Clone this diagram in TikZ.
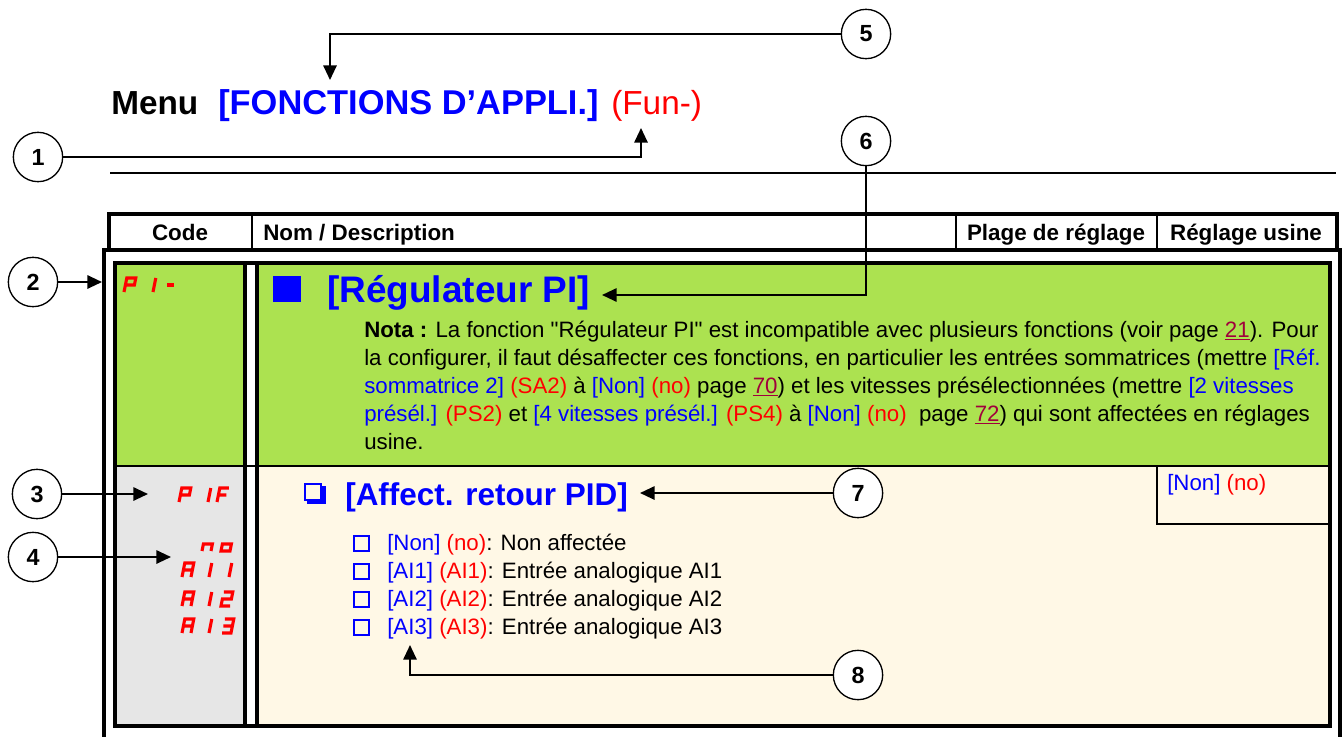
\documentclass[tikz,border=0pt]{standalone}
\usepackage{fontspec}
\setmainfont{Liberation Sans}[Ligatures=TeXOff]
\usepackage{tikz}
\usetikzlibrary{arrows.meta}

\definecolor{menublue}{RGB}{0,0,255}
\definecolor{codered}{RGB}{255,0,0}
\definecolor{pagered}{RGB}{160,0,60}
\definecolor{rowgreen}{RGB}{172,226,80}
\definecolor{rowgrey}{RGB}{230,230,230}
\definecolor{rowcream}{RGB}{255,248,230}

\newcommand\bleu[1]{\textcolor{menublue}{#1}}
\newcommand\rouge[1]{\textcolor{codered}{#1}}
\newcommand\voirpage[1]{\textcolor{pagered}{\underline{#1}}}
% one character of the 7-segment display
\newcommand\segchar[3]{\draw[segline, shift={(#1,#2)}, xslant=0.2] #3;}

\tikzset{
  callout/.style={circle, draw, fill=white, line width=1pt, minimum size=37pt,
    inner sep=0pt, font=\fontsize{17.5}{18}\selectfont\bfseries},
  pointer/.style={line width=1.5pt, -{Triangle[length=11pt,width=10pt]}},
  frame/.style={line width=3pt},
  rule/.style={line width=0.8pt},
  titletext/.style={anchor=base west, inner sep=0pt, font=\fontsize{25}{25}\selectfont\bfseries},
  headtext/.style={anchor=base, inner sep=0pt, font=\fontsize{16.8}{20}\selectfont\bfseries},
  bodytext/.style={anchor=base west, inner sep=0pt, font=\fontsize{16.7}{20}\selectfont},
  segline/.style={codered, line width=2.3pt},
  listbox/.style={menublue, line width=1.1pt},
}

\begin{document}
\begin{tikzpicture}[x=0.75pt, y=-0.75pt]
    \useasboundingbox (0,0) rectangle (1344,736);

    % title
    \node[titletext] (menu) at (111,114) {Menu};
    \node[titletext, text=menublue, font=\fontsize{25.8}{26}\selectfont\bfseries]
      (menuname) at (218,114) {[FONCTIONS D’APPLI.]};
    \node[titletext, text=codered, font=\fontsize{25}{25}\selectfont] (menucode) at (611,114) {(Fun-)};
    \draw[rule] (110,173) -- (1336,173);

    % row backgrounds
    \fill[rowgreen] (115,263) rectangle (245,466);
    \fill[rowgreen] (257,263) rectangle (1330,466);
    \fill[rowgrey] (115,466) rectangle (245,726);
    \fill[rowcream] (257,466) rectangle (1330,726);

    % header
    \draw[frame] (109,214) rectangle (1337,250);
    \foreach \x in {252,956,1157}
      \draw[rule] (\x,214) -- (\x,250);
    \node[headtext] (hcode) at (180,240) {Code};
    \node[headtext, anchor=base west] (hname) at (263,240) {Nom / Description};
    \node[headtext] (hrange) at (1056,240) {Plage de réglage};
    \node[headtext] (hfactory) at (1246,240) {Réglage usine};

    % frames
    \draw[frame] (104,745) -- (104,250) -- (1340,250) -- (1340,745);
    \draw[frame] (115,263) rectangle (1330,726);
    \draw[frame] (245,263) -- (245,726);
    \draw[frame] (257,263) -- (257,726);
    \draw[rule] (115,466) -- (1330,466);
    \draw[rule] (1157,466) -- (1157,524) -- (1330,524);

    % green row
    \fill[menublue] (273,276) rectangle (301,302);
    \node[titletext, text=menublue, font=\fontsize{27.7}{28}\selectfont\bfseries]
      (regpi) at (327,302) {[Régulateur PI]};
    \node[bodytext] (nota1) at (364,337) {\textbf{Nota :} La fonction "Régulateur PI" est incompatible avec plusieurs fonctions (voir page \voirpage{21}). Pour};
    \node[bodytext] (nota2) at (364,365) {la configurer, il faut désaffecter ces fonctions, en particulier les entrées sommatrices (mettre \bleu{[Réf.}};
    \node[bodytext] (nota3) at (364,393) {\bleu{sommatrice 2]} \rouge{(SA2)} à \bleu{[Non]} \rouge{(no)} page \voirpage{70}) et les vitesses présélectionnées (mettre \bleu{[2 vitesses}};
    \node[bodytext] (nota4) at (364,421) {\bleu{présél.]} \rouge{(PS2)} et \bleu{[4 vitesses présél.]} \rouge{(PS4)} à \bleu{[Non]} \rouge{(no)}\ \ page \voirpage{72}) qui sont affectées en réglages};
    \node[bodytext] (nota5) at (364,449) {usine.};

    % cream row
    \draw[menublue, line width=1.3pt] (305,484) rectangle (321,500);
    \fill[menublue] (321,486) rectangle (326,504);
    \fill[menublue] (307,500) rectangle (326,504);
    \node[titletext, text=menublue, font=\fontsize{23.6}{24}\selectfont\bfseries]
      (retour) at (345,505) {[Affect. retour PID]};
    \foreach \lab/\code/\desc [count=\k from 0] in
      {[Non]/(no)/Non affectée, [AI1]/(AI1)/Entrée analogique AI1,
       [AI2]/(AI2)/Entrée analogique AI2, [AI3]/(AI3)/Entrée analogique AI3}
    {
      \draw[listbox] (354,536+28*\k) rectangle (369,551+28*\k);
      \node[bodytext] (item\k) at (387,550+28*\k) {\bleu{\lab} \rouge{\code}: \desc};
    }
    \node[bodytext] (factory) at (1167,490) {\bleu{[Non]} \rouge{(no)}};

    % code column, display characters
    \segchar{124}{292}{(0,0)--(0,-14)--(9,-14)--(9,-7)--(0,-7)}
    \segchar{153}{292}{(0,0)--(0,-14)}
    \segchar{166}{292}{(0,-7)--(7,-7)}
    \segchar{179}{502}{(0,0)--(0,-14)--(9,-14)--(9,-7)--(0,-7)}
    \segchar{208}{502}{(0,0)--(0,-14)}
    \segchar{217}{502}{(9,-14)--(0,-14)--(0,0) (0,-7)--(8,-7)}
    \segchar{202}{551}{(0,0)--(0,-7)--(9,-7)--(9,0)}
    \segchar{221}{551}{(0,0) rectangle (9,-7)}
    \foreach \y in {577,606,633} {
      \segchar{182}{\y}{(0,0)--(0,-14)--(9,-14)--(9,0) (0,-7)--(9,-7)}
      \segchar{209}{\y}{(0,0)--(0,-14)}
    }
    \segchar{229}{577}{(0,0)--(0,-14)}
    \segchar{221}{606}{(0,-14)--(9,-14)--(9,-7)--(0,-7)--(0,0)--(9,0)}
    \segchar{222}{633}{(0,-14)--(9,-14)--(9,0)--(0,0) (0,-7)--(9,-7)}

    % callouts
    \node[callout] (c1) at (38,157) {1};
    \node[callout] (c2) at (33,282) {2};
    \node[callout] (c3) at (37,494) {3};
    \node[callout] (c4) at (33,557) {4};
    \node[callout] (c5) at (866,34) {5};
    \node[callout] (c6) at (866,141) {6};
    \node[callout] (c7) at (858,493) {7};
    \node[callout] (c8) at (858,675) {8};

    \coordinate (t1) at (641,128);
    \coordinate (t2) at (102,282);
    \coordinate (t3) at (148,494);
    \coordinate (t4) at (171,557);
    \coordinate (t5) at (330,80);
    \coordinate (t6) at (602,295);
    \coordinate (t7) at (640,493);
    \coordinate (t8) at (410,645);
    \draw[pointer] (c1) -| (t1);
    \draw[pointer] (c2) -- (t2);
    \draw[pointer] (c3) -- (t3);
    \draw[pointer] (c4) -- (t4);
    \draw[pointer] (c5) -| (t5);
    \draw[pointer] (c6) |- (t6);
    \draw[pointer] (c7) -- (t7);
    \draw[pointer] (c8) -| (t8);
\end{tikzpicture}
\end{document}
